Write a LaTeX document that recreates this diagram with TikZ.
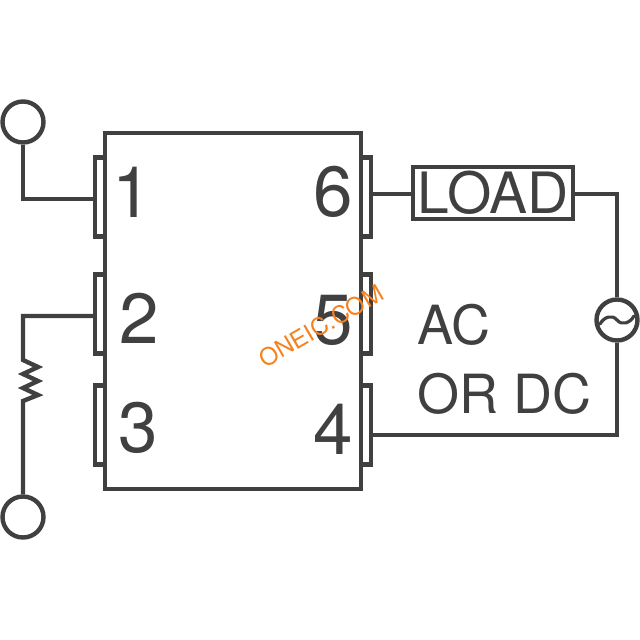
\documentclass[tikz,border=0pt]{standalone}
\usepackage{fontspec}
\setmainfont{TeX Gyre Heros}
\definecolor{ink}{HTML}{404041}
\definecolor{wm}{HTML}{F5821F}
\tikzset{
  wire/.style={draw=ink,line width=4.4pt,line join=miter},
  term/.style={circle,draw=ink,line width=4.4pt,minimum size=41pt,inner sep=0pt,fill=white},
  pinbox/.style={rectangle,draw=ink,line width=4.4pt,minimum width=10pt,minimum height=79pt,inner sep=0pt},
  pinnum/.style={text=ink,inner sep=0pt,font=\fontsize{71}{71}\selectfont},
  lbl/.style={text=ink,inner sep=0pt,font=\fontsize{54}{54}\selectfont,anchor=west},
}
\begin{document}
\begin{tikzpicture}[x=1pt,y=-1pt]
\useasboundingbox (0,0) rectangle (640,640);
\fill[white] (0,0) rectangle (640,640);
% pins
\node[pinbox] (p1) at (100,197) {};
\node[pinbox] (p2) at (100,314) {};
\node[pinbox] (p3) at (100,425) {};
\node[pinbox] (p6) at (366,197) {};
\node[pinbox] (p5) at (366,314) {};
\node[pinbox] (p4) at (366,425) {};
% body
\node[rectangle,draw=ink,line width=4.4pt,minimum width=256pt,minimum height=356pt,inner sep=0pt] (body) at (233,311) {};
% terminals
\node[term] (t1) at (23,122) {};
\node[term] (t2) at (23,517) {};
\node[term] (src) at (617,320) {};
\node[rectangle,draw=ink,line width=4.4pt,minimum width=160pt,minimum height=52pt,inner sep=0pt,text=ink,font=\fontsize{57}{57}\selectfont] (load) at (493,193) {LOAD};
% corners and resistor ends
\coordinate (c1) at (23,199);
\coordinate (c2) at (23,316);
\coordinate (r1) at (23,360);
\coordinate (r2) at (23,401);
\coordinate (c3) at (617,194);
\coordinate (c4) at (617,435);
\draw[wire] (t1) -- (c1) -- (c1 -| p1.west);
\draw[wire] (p2.west |- c2) -- (c2) -- (r1)
  -- ++(15,7) -- ++(-15,7) -- ++(15,7) -- ++(-15,7) -- ++(15,7) -- ++(-15,6) -- (r2) -- (t2);
\draw[wire] (p6.east |- c3) -- (load.west |- c3);
\draw[wire] (load.east |- c3) -- (c3) -- (src);
\draw[wire] (src) -- (c4) -- (c4 -| p4.east);
% sine symbol
\begin{scope}[shift={(src.center)}]
\draw[draw=ink,line width=3.2pt,line cap=round] (-17,4) .. controls (-13,-3) and (-5,-6) .. (0,0) .. controls (5,6) and (13,3) .. (17,-4);
\end{scope}
% numbers
\node[pinnum] (n1) at (132,192) {1};
\node[pinnum] (n2) at (139,318) {2};
\node[pinnum] (n3) at (138,428) {3};
\node[pinnum] (n6) at (333,192) {6};
\node[pinnum] (n5) at (333,320) {5};
\node[pinnum] (n4) at (333,429) {4};
\node[lbl] (ac) at (417,325) {AC};
\node[lbl] (ordc) at (417,394) {OR DC};
\node[text=wm,inner sep=0pt,rotate=30,font=\fontsize{24}{24}\selectfont] (mark) at (321,326) {ONEIC.COM};
\end{tikzpicture}
\end{document}
